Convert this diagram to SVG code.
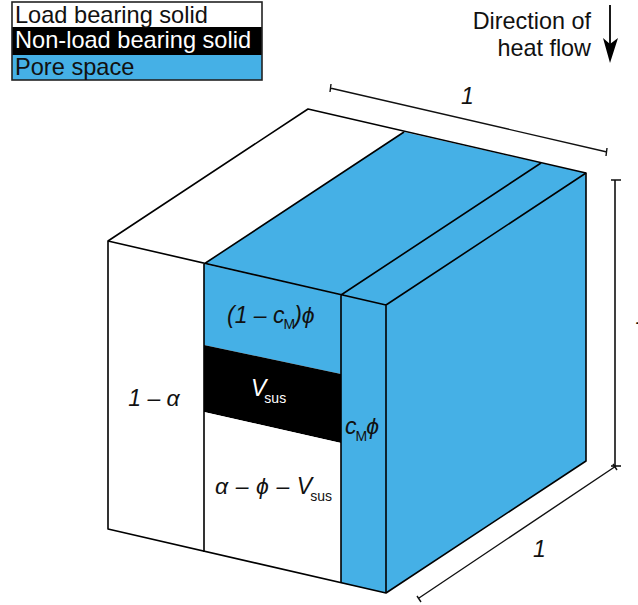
<svg xmlns="http://www.w3.org/2000/svg" width="638" height="605" viewBox="0 0 638 605">
<style>
text{font-family:"Liberation Sans",Arial,sans-serif;fill:#111}
.lg{font-size:23.6px}
.hf{font-size:23.4px}
.m{font-size:23px;font-style:italic}
.s{font-size:14px;font-style:normal}
.e{stroke:#000;stroke-width:1.6;fill:none;stroke-linejoin:round}
.b{fill:#45b0e6}
.dim{stroke:#111;stroke-width:1.4;fill:none}
.dim2{stroke:#111;stroke-width:1.6;fill:none}
</style>
<rect width="638" height="605" fill="#fff"/>
<g id="legend">
<rect x="12" y="2" width="250" height="25" fill="#fff"/>
<rect x="12" y="27" width="250" height="28" fill="#000"/>
<rect class="b" x="12" y="55" width="250" height="25"/>
<rect x="12" y="2" width="250" height="78" fill="none" stroke="#222" stroke-width="1.6"/>
<text class="lg" x="15" y="23">Load bearing solid</text>
<text class="lg" x="15" y="48" style="fill:#fff">Non-load bearing solid</text>
<text class="lg" x="15" y="75">Pore space</text>
</g>
<g id="heat-flow">
<text class="hf" x="591" y="29" text-anchor="end">Direction of</text>
<text class="hf" x="591" y="56" text-anchor="end">heat flow</text>
<path d="M610 5V45" stroke="#000" stroke-width="1.8"/>
<path d="M603 38L610 44L618 38L610 63Z" fill="#000"/>
</g>
<g id="face-top-solid"><path d="M108 241L308 109L404 132L204 264Z" fill="#fff"/></g>
<g id="face-top-pore"><path class="b" d="M204 264L404 132L586 173L386 305Z"/></g>
<g id="face-right"><path class="b" d="M386 305L586 173V461L386 593Z"/></g>
<g id="face-front-solid"><path d="M108 241L204 264V552L108 529Z" fill="#fff"/>
<text class="m" x="154" y="406" text-anchor="middle">1 – α</text></g>
<g id="band-pore">
<path class="b" d="M204 264L341 295V374L204 345Z"/>
<text class="m" x="227" y="323">(1 – c<tspan class="s" dy="6" dx="-1">M</tspan><tspan dy="-6" dx="-1">)ϕ</tspan></text>
</g>
<g id="band-sus">
<path d="M204 345L341 374V443L204 412Z" fill="#000"/>
<text class="m" x="251" y="396" style="fill:#fff">V<tspan class="s" dy="7" style="fill:#fff" dx="-2">sus</tspan></text>
</g>
<g id="band-solid">
<path d="M204 412L341 443V583L204 552Z" fill="#fff"/>
<text class="m" x="215" y="494" style="word-spacing:1.2px">α – ϕ – V<tspan class="s" dy="7" dx="-2">sus</tspan></text>
</g>
<g id="band-cm">
<path class="b" d="M341 295L386 305V593L341 583Z"/>
<text class="m" x="345" y="434">c<tspan class="s" dy="7" dx="-1">M</tspan><tspan dy="-7" dx="-1">ϕ</tspan></text>
</g>
<g id="connectors">
<path class="e" d="M108 241L308 109L586 173V461L386 593L108 529Z"/>
<path class="e" d="M108 241L386 305V593M386 305L586 173M204 264V552M341 295V583M204 264L404 132M341 295L541 163"/>
<path class="dim" d="M330 88L607 152M331 84L330 92M607 148L606 156"/>
<path class="dim2" d="M615 180V466M611 180H621"/>
<path class="dim2" d="M611 466H621"/>
<path class="dim" d="M419 598L616 466M417 596L421 602M613 464L617 470"/>
</g>
<g id="dimension-labels">
<text class="m" x="461" y="104">1</text>
<text class="m" x="533" y="557">1</text>
<text class="m" x="635.5" y="324">1</text>
</g>
</svg>
